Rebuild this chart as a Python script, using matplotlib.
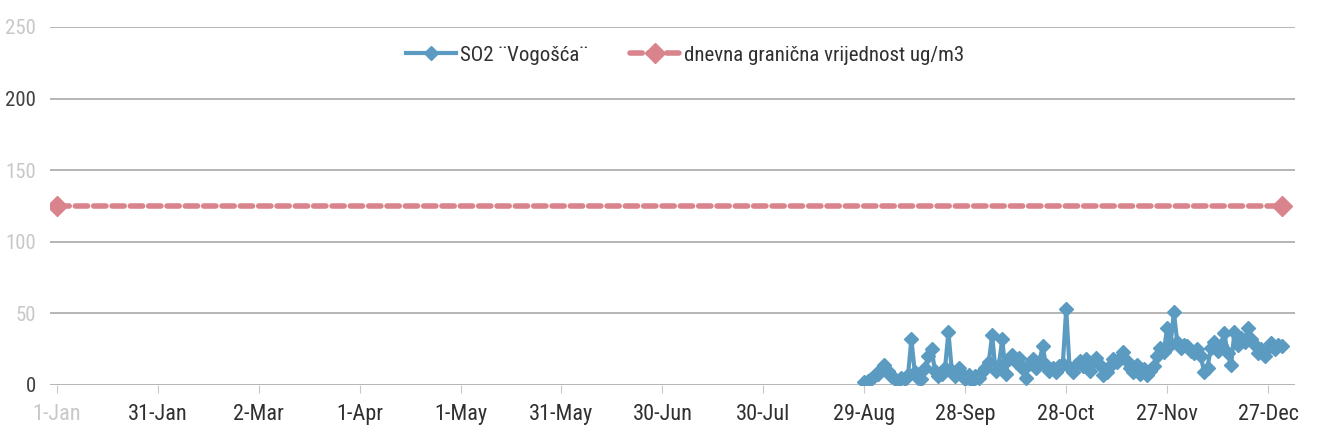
import pandas as pd
import matplotlib.pyplot as plt
from matplotlib import font_manager

fams = {f.name for f in font_manager.fontManager.ttflist}
narrow = [f for f in ["Liberation Sans Narrow", "Roboto Condensed", "Open Sans Condensed"]
          if f in fams]
plt.rcParams['font.family'] = narrow + ['DejaVu Sans']
plt.rcParams['font.stretch'] = 'condensed'

# daily SO2 at Vogosca, 29-Aug .. 31-Dec
so2_start = "2015-08-29"
so2 = [2, 3, 4, 6, 8, 11,
       14, 10, 6,
       4, 3, 5, 4, 7,
       32, 9, 5,
       4, 12, 20, 25, 10, 6, 8, 12, 37,
       10, 6, 12, 8,
       4, 7, 3, 6, 5, 9,
       12, 16, 35, 10, 14, 32, 8,
       18, 21, 16, 19, 12, 5,
       15, 18, 12, 16, 27,
       14, 10, 12, 9, 13, 15, 53,
       12, 9, 14,
       17, 13, 18, 10, 16, 19, 14,
       7, 9, 13,
       18, 16, 19, 23, 17,
       12, 9, 14, 8, 11, 7, 10, 13,
       20, 26, 23, 40, 28, 51,
       30, 26, 28, 27,
       24, 22, 25, 20, 9, 12,
       26, 30, 24, 28, 36, 22, 14,
       37, 28, 33, 30, 40,
       32, 28, 22, 25, 20,
       26, 29, 25, 28, 27]

limit_dates = ["2015-01-01", "2015-12-31"]
limit_vals = [125, 125]

tick_dates = ["2015-01-01", "2015-01-31", "2015-03-02", "2015-04-01", "2015-05-01",
              "2015-05-31", "2015-06-30", "2015-07-30", "2015-08-29", "2015-09-28",
              "2015-10-28", "2015-11-27", "2015-12-27"]
tick_labels = ["1-Jan", "31-Jan", "2-Mar", "1-Apr", "1-May", "31-May", "30-Jun",
               "30-Jul", "29-Aug", "28-Sep", "28-Oct", "27-Nov", "27-Dec"]
y_ticks = [0, 50, 100, 150, 200, 250]

so2_dates = pd.date_range(so2_start, periods=len(so2), freq="D")

fig = plt.figure(figsize=(13.21, 4.43), dpi=100)
ax = fig.add_axes([50 / 1321, 58 / 443, 1245 / 1321, 358 / 443])

ax.plot(so2_dates, so2, color="#5b9bc2", lw=3, marker="D", ms=7,
        label="SO2 ¨Vogošća¨", zorder=3)
ax.plot(pd.to_datetime(limit_dates), limit_vals, color="#d9848c", lw=4,
        ls=(0, (2.2, 1.1)), dash_capstyle="round", marker="D", ms=10,
        label="dnevna granična vrijednost ug/m3", zorder=2)

ax.set_ylim(0, 250)
ax.set_xlim(pd.Timestamp("2014-12-30"), pd.Timestamp("2016-01-04"))
ax.set_yticks(y_ticks)
ax.set_xticks(pd.to_datetime(tick_dates))
ax.set_xticklabels(tick_labels)

ax.grid(axis="y", color="#b0b0b0", lw=1.3)
ax.grid(axis="x", visible=False)
for s in ax.spines.values():
    s.set_visible(False)
ax.tick_params(axis="y", length=0, labelsize=15, labelcolor="#c8c8c8", pad=10)
ax.tick_params(axis="x", length=6, color="#c8c8c8", labelsize=16,
               labelcolor="#303030", pad=8)
for lab, v in zip(ax.get_yticklabels(), y_ticks):
    if v in (0, 200):
        lab.set_color("#404040")
ax.get_xticklabels()[0].set_color("#c8c8c8")

ax.legend(loc="upper center", bbox_to_anchor=(0.51, 1.0), ncol=2, frameon=False,
          fontsize=15, handlelength=2.4, columnspacing=2.0, handletextpad=0.2,
          labelcolor="#303030")

fig.savefig("out.png", dpi=100)
